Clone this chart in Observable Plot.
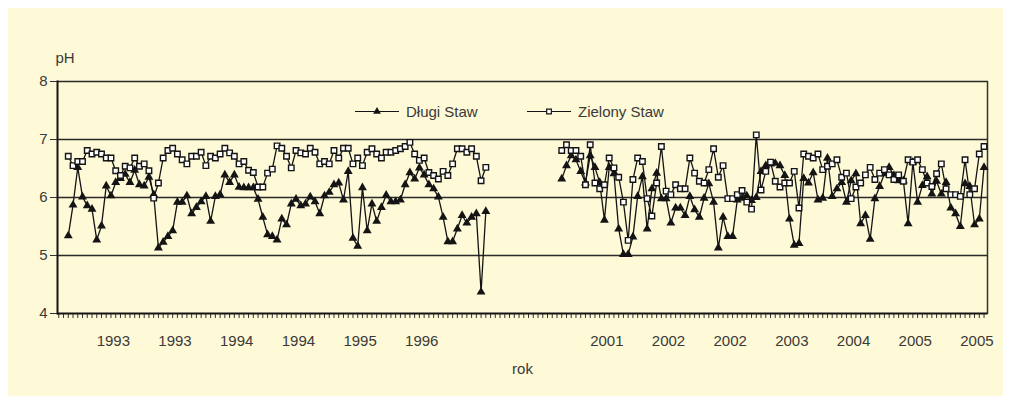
<!DOCTYPE html>
<html><head><meta charset="utf-8">
<script src="https://cdn.jsdelivr.net/npm/d3@7"></script>
<script src="https://cdn.jsdelivr.net/npm/@observablehq/plot@0.6"></script>
<style>
body{margin:0;background:#fff;font-family:"Liberation Sans",Arial,sans-serif;}
#wrap{position:relative;width:1012px;height:400px;overflow:hidden;}
#panel{position:absolute;left:8px;top:8px;width:995px;height:388px;background:#fef9d6;}
#chart{position:absolute;left:0;top:0;}
#legend{position:absolute;left:0;top:0;}
</style></head><body>
<div id="wrap"><div id="panel"></div><div id="chart"></div><svg id="legend" width="1012" height="400"></svg></div>
<script>
// number of sampling categories on the x axis
const nCategories = 196;
// start index of each measured segment (gap 1997-2000)
const segmentStarts = [2, 106];

const dlugiA = [
5.34,5.87,6.52,6.01,5.86,5.80,5.27,5.51,6.20,6.03,
6.26,6.33,6.40,6.26,6.47,6.22,6.20,6.35,6.05,5.13,
5.23,5.33,5.43,5.92,5.92,6.03,5.72,5.83,5.93,6.02,
5.59,6.02,6.05,6.39,6.26,6.39,6.18,6.17,6.17,6.17,
5.97,5.66,5.36,5.33,5.27,5.63,5.53,5.89,5.97,5.86,
5.89,6.01,5.93,5.72,6.03,6.09,6.22,6.25,5.96,6.45,
5.30,5.16,6.17,5.43,5.89,5.59,5.83,6.04,5.93,5.93,
5.96,6.22,6.43,6.32,6.51,6.39,6.22,6.15,6.01,5.66,
5.24,5.24,5.46,5.69,5.56,5.66,5.72,4.37,5.76];
const dlugiB = [
6.32,6.55,6.72,6.65,6.45,6.25,6.72,6.52,6.26,5.61,
6.52,6.41,5.46,5.02,5.02,5.32,6.02,6.36,5.46,6.15,
6.42,5.98,5.98,5.56,5.82,5.82,5.69,6.02,5.79,5.66,
5.99,6.24,5.92,5.13,5.66,5.33,5.33,5.96,5.99,6.03,
5.95,6.00,6.45,6.55,6.58,6.59,6.55,6.38,5.63,5.18,
5.21,6.33,6.25,6.43,5.96,5.99,6.68,6.02,6.15,6.26,
5.92,6.29,6.41,5.55,5.69,5.28,5.98,6.19,6.41,6.52,
6.38,6.29,6.29,5.55,6.61,5.92,6.21,6.36,6.06,6.28,
6.06,6.26,5.82,5.72,5.50,6.24,6.19,5.53,5.63,6.52];
const zielonyA = [
6.71,6.55,6.62,6.62,6.81,6.75,6.78,6.75,6.68,6.68,
6.46,6.38,6.54,6.51,6.68,6.54,6.58,6.46,5.99,6.25,
6.68,6.81,6.85,6.75,6.65,6.58,6.71,6.71,6.78,6.55,
6.71,6.68,6.75,6.85,6.77,6.71,6.58,6.62,6.47,6.43,
6.18,6.18,6.42,6.49,6.89,6.85,6.71,6.51,6.81,6.77,
6.75,6.85,6.78,6.58,6.62,6.58,6.81,6.68,6.85,6.85,
6.58,6.68,6.55,6.78,6.84,6.75,6.68,6.78,6.78,6.81,
6.84,6.88,6.95,6.75,6.64,6.68,6.43,6.38,6.32,6.45,
6.38,6.58,6.84,6.84,6.78,6.84,6.71,6.29,6.52];
const zielonyB = [
6.81,6.91,6.81,6.81,6.71,6.22,6.91,6.25,6.15,6.22,
6.68,6.51,6.35,5.92,5.26,6.31,6.68,6.62,5.98,5.68,
6.25,6.88,6.11,6.05,6.22,6.15,6.15,6.68,6.42,6.28,
6.25,6.48,6.84,6.35,6.55,5.98,5.98,6.05,6.12,5.92,
5.80,7.08,6.13,6.45,6.61,6.28,6.18,6.25,6.25,6.45,
5.82,6.75,6.71,6.68,6.75,6.48,6.54,6.58,6.65,6.35,
6.42,5.98,6.18,6.25,6.39,6.52,6.31,6.42,6.48,6.39,
6.31,6.39,6.28,6.65,6.61,6.65,6.48,6.25,6.19,6.41,
6.58,6.15,6.05,6.05,6.02,6.65,6.05,6.15,6.75,6.88];

const seriesNames = ["Długi Staw", "Zielony Staw"];
const yearLabels = ["1993","1993","1994","1994","1995","1996","","","2001","2002","2002","2003","2004","2005","2005"];
const labelFirst = 11.5, labelEvery = 13;
const yTicks = [4,5,6,7,8];
const gridValues = [5,6,7,8];

function buildSeries(name, segs) {
  const out = [];
  for (let i = 0; i < nCategories; i++) out.push({i, v: NaN, s: name});
  segs.forEach((arr, k) => arr.forEach((v, j) => { out[segmentStarts[k] + j].v = v; }));
  return out;
}
const dlugi = buildSeries(seriesNames[0], [dlugiA, dlugiB]);
const zielony = buildSeries(seriesNames[1], [zielonyA, zielonyB]);
const labels = yearLabels.map((t, k) => ({t, x: labelFirst + k * labelEvery}));

const ink = "#141414", txt = "#3a3a3a";
const chart = Plot.plot({
  width: 1012, height: 400,
  marginLeft: 57, marginRight: 25, marginTop: 81, marginBottom: 87,
  style: {background: "transparent", fontFamily: '"Liberation Sans", Arial, sans-serif', fontSize: "15px", color: txt},
  x: {domain: [-0.27, nCategories - 0.27], axis: null},
  y: {domain: [4, 8], axis: null},
  marks: [
    Plot.ruleY(gridValues, {stroke: "#2a2a2a", strokeWidth: 1.3}),
    Plot.frame({anchor: "right", stroke: "#333", strokeWidth: 1.5}),
    Plot.axisX(d3.range(nCategories), {tickSize: 5, tickFormat: () => "", stroke: "#333", strokeWidth: 1}),
    Plot.axisY(yTicks, {tickSize: 7, tickPadding: 3, tickFormat: d => String(d), fontSize: 15, label: null, stroke: "#333", fill: txt}),
    Plot.ruleY([4], {stroke: ink, strokeWidth: 2}),
    Plot.frame({anchor: "left", stroke: ink, strokeWidth: 2}),
    Plot.text(labels, {x: "x", text: "t", frameAnchor: "bottom", dy: 32, fontSize: 15, fill: txt}),
    Plot.text(["pH"], {frameAnchor: "top-left", dx: -2, dy: -29, textAnchor: "start", fontSize: 15, fill: txt}),
    Plot.text(["rok"], {frameAnchor: "bottom", dy: 60, fontSize: 15, fill: txt}),
    Plot.line(dlugi, {x: "i", y: "v", stroke: ink, strokeWidth: 1.3}),
    Plot.line(zielony, {x: "i", y: "v", stroke: ink, strokeWidth: 1.3}),
    Plot.dot(dlugi.filter(d => !isNaN(d.v)), {x: "i", y: "v", symbol: "triangle", r: 3.3, fill: ink, stroke: null}),
    Plot.dot(zielony.filter(d => !isNaN(d.v)), {x: "i", y: "v", symbol: "square", r: 3.1, fill: "#fff", stroke: ink, strokeWidth: 1.4})
  ]
});
document.getElementById("chart").appendChild(chart);

// legend
const lg = d3.select("#legend");
const items = [
  {name: seriesNames[0], x0: 355, sym: "triangle"},
  {name: seriesNames[1], x0: 527, sym: "square"}
];
const ly = 111.5;
items.forEach(it => {
  lg.append("line").attr("x1", it.x0).attr("x2", it.x0 + 44).attr("y1", ly).attr("y2", ly).attr("stroke", ink).attr("stroke-width", 1.2);
  const sym = it.sym === "triangle" ? d3.symbol(d3.symbolTriangle, 26) : d3.symbol(d3.symbolSquare, 22);
  lg.append("path").attr("d", sym()).attr("transform", `translate(${it.x0 + 22},${ly})`)
    .attr("fill", it.sym === "triangle" ? ink : "#fff").attr("stroke", it.sym === "triangle" ? "none" : ink).attr("stroke-width", 1.2);
  lg.append("text").attr("x", it.x0 + 51).attr("y", ly).attr("dy", "0.35em").attr("fill", txt)
    .style("font", '15px "Liberation Sans", Arial, sans-serif').text(it.name);
});
</script>
</body></html>
